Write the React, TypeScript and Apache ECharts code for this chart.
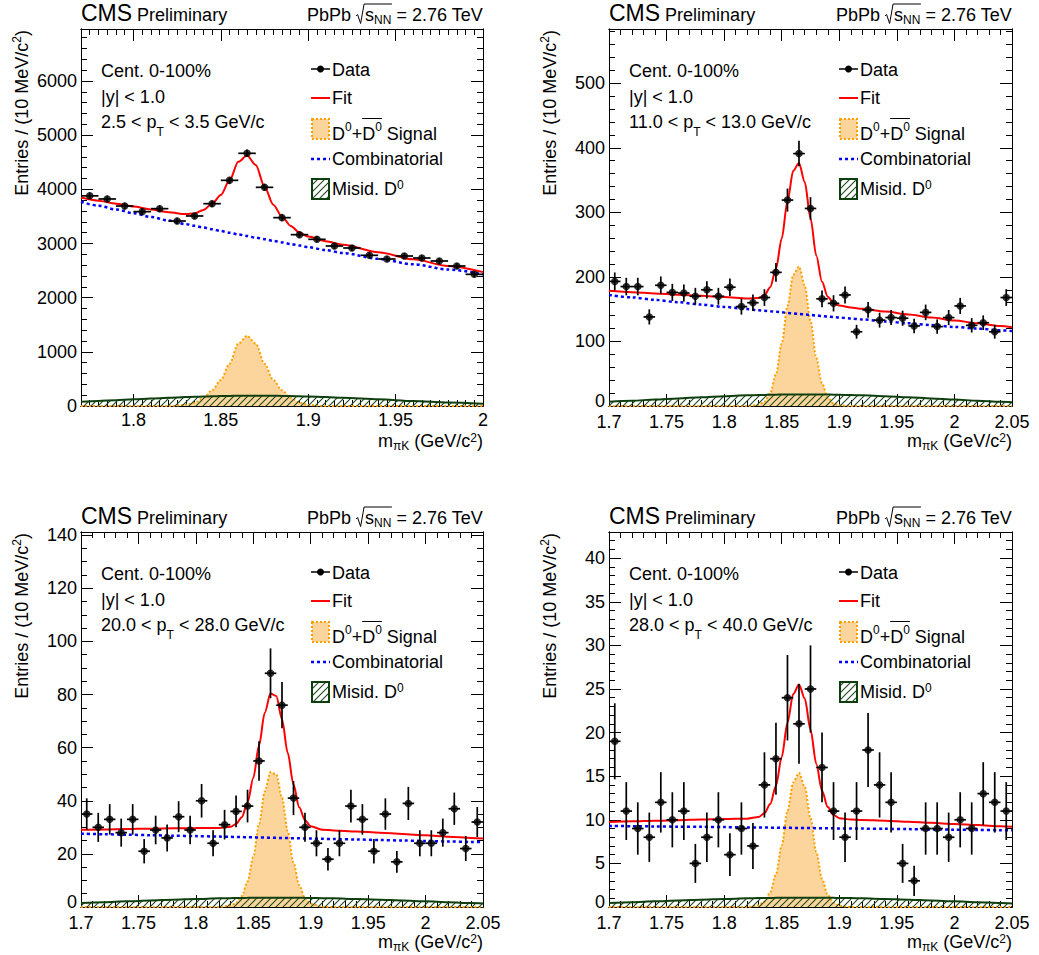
import React, { useEffect, useRef } from 'react';
import * as echarts from 'echarts';

const FONT = '"Liberation Sans", Arial, Helvetica, sans-serif';

// ---------------- data ----------------
// bin centres (10 MeV bins)
const binsTL = [1.775, 1.785, 1.795, 1.805, 1.815, 1.825, 1.835, 1.845, 1.855, 1.865, 1.875, 1.885, 1.895, 1.905, 1.915, 1.925, 1.935, 1.945, 1.955, 1.965, 1.975, 1.985, 1.995];
const binsR = [1.705, 1.715, 1.725, 1.735, 1.745, 1.755, 1.765, 1.775, 1.785, 1.795, 1.805, 1.815, 1.825, 1.835, 1.845, 1.855, 1.865, 1.875, 1.885, 1.895, 1.905, 1.915, 1.925, 1.935, 1.945, 1.955, 1.965, 1.975, 1.985, 1.995, 2.005, 2.015, 2.025, 2.035, 2.045];

// entries per bin
const countsTL = [3880, 3822, 3692, 3588, 3643, 3415, 3508, 3735, 4166, 4665, 4037, 3477, 3163, 3077, 2954, 2917, 2782, 2714, 2769, 2732, 2677, 2585, 2431];
const countsTR = [193, 185, 185, 138, 187, 176, 175, 170, 180, 170, 184, 154, 160, 168, 207, 319, 391, 306, 166, 159, 172, 115, 149, 133, 137, 136, 124, 145, 123, 137, 155, 125, 129, 115, 168];
const countsBL = [35, 30, 33, 28, 33, 21, 29, 26, 34, 29, 40, 24, 31, 36, 38, 55, 88, 76, 41, 30, 24, 18, 24, 38, 33, 21, 35, 17, 39, 24, 24, 28, 37, 22, 32];
const countsBR = [19, 11, 9, 8, 12, 10, 11, 5, 8, 10, 6, 9, 7, 14, 17, 24, 21, 25, 16, 11, 8, 11, 18, 14, 12, 5, 3, 9, 9, 8, 10, 9, 13, 12, 11];

// curve sample positions
const curveXTL = [1.77, 1.78, 1.79, 1.8, 1.81, 1.82, 1.83, 1.835, 1.84, 1.845, 1.85, 1.855, 1.86, 1.865, 1.87, 1.875, 1.88, 1.885, 1.89, 1.895, 1.9, 1.91, 1.92, 1.94, 1.96, 1.98, 2.0];
const curveXR = [1.7, 1.72, 1.74, 1.76, 1.78, 1.8, 1.82, 1.83, 1.835, 1.84, 1.845, 1.85, 1.855, 1.86, 1.865, 1.87, 1.875, 1.88, 1.885, 1.89, 1.895, 1.9, 1.91, 1.92, 1.94, 1.96, 1.98, 2.0, 2.02, 2.04, 2.05];

// panel 1: 2.5 < pT < 3.5
const combTL = [3770, 3699, 3628, 3559, 3491, 3425, 3358, 3326, 3294, 3263, 3231, 3200, 3169, 3138, 3108, 3079, 3049, 3020, 2991, 2962, 2933, 2878, 2823, 2717, 2616, 2521, 2430];
const misidTL = [78, 92, 108, 123, 138, 152, 165, 170, 175, 180, 183, 186, 188, 190, 190, 190, 188, 186, 183, 180, 175, 165, 152, 123, 92, 65, 42];
const sigTL = [0, 0, 0, 0, 0, 0, 20, 60, 150, 290, 480, 780, 1150, 1295, 1150, 780, 480, 290, 150, 60, 20, 0, 0, 0, 0, 0, 0];
const fitTL = [3848, 3791, 3736, 3682, 3629, 3577, 3543, 3556, 3619, 3733, 3894, 4166, 4507, 4623, 4448, 4049, 3717, 3496, 3324, 3202, 3128, 3043, 2975, 2840, 2708, 2586, 2472];

// panel 2: 11 < pT < 13
const combTR = [172, 168.2, 164.4, 160.7, 157.1, 153.5, 150.1, 148.4, 147.6, 146.7, 145.9, 145.1, 144.2, 143.4, 142.6, 141.8, 141, 140.2, 139.4, 138.6, 137.8, 137.1, 135.5, 134, 131, 128.1, 125.3, 122.5, 119.9, 117.3, 116];
const misidTR = [6.6, 8.2, 10, 11.8, 13.6, 15.2, 16.5, 17, 17.2, 17.4, 17.6, 17.8, 17.9, 17.9, 18, 18, 18, 17.9, 17.9, 17.8, 17.6, 17.4, 17, 16.5, 15.2, 13.6, 11.8, 10, 8.2, 6.6, 5.9];
const sigTR = [0, 0, 0, 0, 0, 0, 0, 1.8, 6.7, 20, 49, 96.5, 155, 203, 216, 187, 132, 75, 35, 13, 4, 1, 0, 0, 0, 0, 0, 0, 0, 0, 0];
const fitTR = [178.6, 176.4, 174.4, 172.5, 170.7, 168.7, 166.6, 167.2, 171.5, 184.1, 212.5, 259.4, 317.1, 364.3, 376.6, 346.8, 291, 233.1, 192.3, 169.4, 159.4, 155.5, 152.5, 150.5, 146.2, 141.7, 137.1, 132.5, 128.1, 123.9, 121.9];

// panel 3: 20 < pT < 28
const combBL = [27.6, 27.42, 27.23, 27.05, 26.87, 26.69, 26.5, 26.41, 26.37, 26.32, 26.27, 26.23, 26.18, 26.14, 26.09, 26.05, 26, 25.95, 25.91, 25.86, 25.82, 25.77, 25.68, 25.59, 25.41, 25.22, 25.04, 24.86, 24.67, 24.49, 24.4];
const misidBL = [1.49, 1.8, 2.12, 2.45, 2.75, 3.03, 3.25, 3.34, 3.38, 3.41, 3.44, 3.46, 3.48, 3.49, 3.5, 3.5, 3.5, 3.49, 3.48, 3.46, 3.44, 3.41, 3.34, 3.25, 3.03, 2.75, 2.45, 2.12, 1.8, 1.49, 1.35];
const sigBL = [0, 0, 0, 0, 0, 0, 0.02, 0.44, 1.47, 4.1, 9.6, 18.9, 31.2, 43.5, 50.8, 49.9, 41.2, 28.6, 16.7, 8.2, 3.4, 1.2, 0.08, 0, 0, 0, 0, 0, 0, 0, 0];
const fitBL = [29.09, 29.22, 29.35, 29.5, 29.62, 29.72, 29.77, 30.19, 31.22, 33.83, 39.31, 48.59, 60.86, 73.13, 80.39, 79.45, 70.7, 58.04, 46.09, 37.52, 32.66, 30.38, 29.1, 28.84, 28.44, 27.97, 27.49, 26.98, 26.47, 25.98, 25.75];

// panel 4: 28 < pT < 40
const combBR = [9.3, 9.27, 9.24, 9.21, 9.19, 9.16, 9.13, 9.11, 9.11, 9.1, 9.09, 9.09, 9.08, 9.07, 9.06, 9.06, 9.05, 9.04, 9.04, 9.03, 9.02, 9.01, 9, 8.99, 8.96, 8.93, 8.9, 8.87, 8.84, 8.81, 8.8];
const misidBR = [0.455, 0.55, 0.65, 0.75, 0.84, 0.925, 0.99, 1.02, 1.03, 1.04, 1.05, 1.06, 1.06, 1.07, 1.07, 1.07, 1.07, 1.07, 1.06, 1.06, 1.05, 1.04, 1.02, 0.99, 0.925, 0.84, 0.75, 0.65, 0.55, 0.455, 0.41];
const sigBR = [0, 0, 0, 0, 0, 0, 0.01, 0.19, 0.61, 1.66, 3.75, 7.05, 11, 14.28, 15.38, 13.77, 10.22, 6.31, 3.23, 1.37, 0.49, 0.14, 0, 0, 0, 0, 0, 0, 0, 0, 0];
const fitBR = [9.76, 9.82, 9.89, 9.96, 10.03, 10.09, 10.13, 10.32, 10.75, 11.8, 13.89, 17.2, 21.14, 24.42, 25.51, 23.9, 20.34, 16.42, 13.33, 11.46, 10.56, 10.19, 10.02, 9.98, 9.89, 9.77, 9.65, 9.52, 9.39, 9.27, 9.21];

// tick labels
const xTicksTL = [1.8, 1.85, 1.9, 1.95, 2.0];
const xTicksR = [1.7, 1.75, 1.8, 1.85, 1.9, 1.95, 2.0, 2.05];
const yTicksTL = [0, 1000, 2000, 3000, 4000, 5000, 6000];
const yTicksTR = [0, 100, 200, 300, 400, 500];
const yTicksBL = [0, 20, 40, 60, 80, 100, 120, 140];
const yTicksBR = [0, 5, 10, 15, 20, 25, 30, 35, 40];

const ptRanges = [['2.5', '3.5'], ['11.0', '13.0'], ['20.0', '28.0'], ['28.0', '40.0']];

// ---------------- layout ----------------
const PANELS = [
  { left: 81, top: 29, width: 402, height: 377, xMin: 1.77, xMax: 2.0, xMinor: 0.005, xTicks: xTicksTL, yMax: 6960, yMinor: 200, yTicks: yTicksTL, bins: binsTL, counts: countsTL, cx: curveXTL, comb: combTL, misid: misidTL, sig: sigTL, fit: fitTL, pt: ptRanges[0] },
  { left: 609, top: 29, width: 403, height: 377, xMin: 1.7, xMax: 2.05, xMinor: 0.01, xTicks: xTicksR, yMax: 584, yMinor: 20, yTicks: yTicksTR, bins: binsR, counts: countsTR, cx: curveXR, comb: combTR, misid: misidTR, sig: sigTR, fit: fitTR, pt: ptRanges[1] },
  { left: 81, top: 532, width: 402, height: 375, xMin: 1.7, xMax: 2.05, xMinor: 0.01, xTicks: xTicksR, yMax: 141.2, yMinor: 5, yTicks: yTicksBL, bins: binsR, counts: countsBL, cx: curveXR, comb: combBL, misid: misidBL, sig: sigBL, fit: fitBL, pt: ptRanges[2] },
  { left: 609, top: 532, width: 403, height: 375, xMin: 1.7, xMax: 2.05, xMinor: 0.01, xTicks: xTicksR, yMax: 43.0, yMinor: 1, yTicks: yTicksBR, bins: binsR, counts: countsBR, cx: curveXR, comb: combBR, misid: misidBR, sig: sigBR, fit: fitBR, pt: ptRanges[3] },
];

const SIG_FILL = '#fcd59c';
const SIG_LINE = '#ffa000';
const GREEN = '#0f3f0f';

let mctx: CanvasRenderingContext2D | null = null;
function tw(t: string, s: number): number {
  if (!mctx) mctx = document.createElement('canvas').getContext('2d');
  mctx!.font = `${s}px "Liberation Sans"`;
  return mctx!.measureText(t).width;
}

type Seg = { t: string; s: number; dy?: number; gap?: number };
function layout(x: number, base: number, segs: Seg[], align: 'left' | 'right' = 'left') {
  const widths = segs.map((p) => (p.t ? tw(p.t, p.s) : 0) + (p.gap || 0));
  const total = widths.reduce((a, b) => a + b, 0);
  let cx = align === 'right' ? x - total : x;
  const els: any[] = [];
  const xs: number[] = [];
  segs.forEach((p, i) => {
    xs.push(cx);
    if (p.t) {
      els.push({
        type: 'text',
        x: cx,
        y: base + (p.dy || 0) - 0.35 * p.s,
        silent: true,
        style: {
          text: p.t, fontSize: p.s, fontFamily: FONT, fill: '#000', lineHeight: p.s,
          align: 'left', verticalAlign: 'middle', textAlign: 'left', textVerticalAlign: 'middle',
        },
      });
    }
    cx += widths[i];
  });
  xs.push(cx);
  return { els, xs, end: cx, total };
}

function makeHatch() {
  const n = 7;
  const c = document.createElement('canvas');
  c.width = n; c.height = n;
  const g = c.getContext('2d')!;
  g.strokeStyle = '#1e4a1e';
  g.lineWidth = 1.1;
  g.beginPath();
  g.moveTo(0, n); g.lineTo(n, 0);
  g.moveTo(-1, 1); g.lineTo(1, -1);
  g.moveTo(n - 1, n + 1); g.lineTo(n + 1, n - 1);
  g.stroke();
  return { image: c, repeat: 'repeat', imageWidth: n, imageHeight: n };
}

function panelGraphics(p: any, hatch: any) {
  const fx = p.left, fy = p.top, fr = p.left + p.width, fb = p.top + p.height;
  const els: any[] = [];
  // header
  const hb = fy - 8;
  const cms = layout(fx, hb, [{ t: 'CMS', s: 23 }]);
  els.push(...cms.els);
  els.push(...layout(cms.end + 5, hb, [{ t: 'Preliminary', s: 18 }]).els);
  const rh = layout(fr, hb, [{ t: 'PbPb ', s: 18 }, { t: '', s: 18, gap: 9 }, { t: 's', s: 18 }, { t: 'NN', s: 12, dy: 3.5 }, { t: ' = 2.76 TeV', s: 18 }], 'right');
  els.push(...rh.els);
  const rx = rh.xs[1];
  const ovEnd = rh.xs[4];
  els.push({
    type: 'polyline', silent: true,
    shape: { points: [[rx, hb - 5], [rx + 1.5, hb - 6.5], [rx + 4.5, hb + 2.5], [rx + 8, hb - 17], [ovEnd + 0.5, hb - 17]] },
    style: { stroke: '#000', lineWidth: 1, fill: 'none' },
  });
  // annotations
  els.push(...layout(fx + 20, fy + 48, [{ t: 'Cent. 0-100%', s: 18 }]).els);
  els.push(...layout(fx + 20, fy + 74, [{ t: '|y| < 1.0', s: 18 }]).els);
  els.push(...layout(fx + 20, fy + 99, [{ t: p.pt[0] + ' < p', s: 18 }, { t: 'T', s: 12, dy: 8 }, { t: ' < ' + p.pt[1] + ' GeV/c', s: 18 }]).els);
  // legend
  const lx0 = fx + 230, lx1 = fx + 249, tx = fx + 251;
  els.push({ type: 'line', silent: true, shape: { x1: lx0, y1: fy + 40, x2: lx1, y2: fy + 40 }, style: { stroke: '#000', lineWidth: 1.5 } });
  els.push({ type: 'circle', silent: true, shape: { cx: (lx0 + lx1) / 2, cy: fy + 40, r: 3.5 }, style: { fill: '#000' } });
  els.push(...layout(tx, fy + 47, [{ t: 'Data', s: 18 }]).els);
  els.push({ type: 'line', silent: true, shape: { x1: lx0, y1: fy + 69, x2: lx1, y2: fy + 69 }, style: { stroke: '#ff0000', lineWidth: 2 } });
  els.push(...layout(tx, fy + 75, [{ t: 'Fit', s: 18 }]).els);
  els.push({ type: 'rect', silent: true, shape: { x: lx0 + 1, y: fy + 90, width: 17, height: 20 }, style: { fill: SIG_FILL, stroke: SIG_LINE, lineWidth: 2, lineDash: [2, 2] } });
  const sg = layout(tx, fy + 111, [{ t: 'D', s: 18 }, { t: '0', s: 12, dy: -9 }, { t: '+', s: 18 }, { t: 'D', s: 18 }, { t: '0', s: 12, dy: -9 }, { t: ' Signal', s: 18 }]);
  els.push(...sg.els);
  els.push({ type: 'line', silent: true, shape: { x1: sg.xs[3], y1: fy + 89.5, x2: sg.xs[5], y2: fy + 89.5 }, style: { stroke: '#000', lineWidth: 1 } });
  els.push({ type: 'line', silent: true, shape: { x1: lx0, y1: fy + 130, x2: lx1, y2: fy + 130 }, style: { stroke: '#0000ff', lineWidth: 2.5, lineDash: [3, 3] } });
  els.push(...layout(tx, fy + 136, [{ t: 'Combinatorial', s: 18 }]).els);
  els.push({ type: 'rect', silent: true, shape: { x: lx0 + 1, y: fy + 150, width: 17, height: 20 }, style: { fill: hatch, stroke: GREEN, lineWidth: 2 } });
  els.push(...layout(tx, fy + 166, [{ t: 'Misid. D', s: 18 }, { t: '0', s: 12, dy: -6 }]).els);
  // axis titles
  const yt = layout(0, 6.3, [{ t: 'Entries / (10 MeV/c', s: 18 }, { t: '2', s: 12, dy: -7 }, { t: ')', s: 18 }], 'right');
  els.push({ type: 'group', x: fx - 59, y: fy + 1, rotation: Math.PI / 2, children: yt.els });
  els.push(...layout(fr, fb + 41, [{ t: 'm', s: 18 }, { t: 'πK', s: 12, dy: 3 }, { t: ' (GeV/c', s: 18 }, { t: '2', s: 12, dy: -5 }, { t: ')', s: 18 }], 'right').els);
  return els;
}

function buildOption() {
  const hatch = makeHatch();
  const grid: any[] = [];
  const xAxis: any[] = [];
  const yAxis: any[] = [];
  const series: any[] = [];
  let graphics: any[] = [];
  const lineStyleBlack = { color: '#000', width: 1 };
  const labelStyle = { fontSize: 18, lineHeight: 14, fontFamily: FONT, color: '#000', hideOverlap: false, showMinLabel: true, showMaxLabel: true };

  PANELS.forEach((p, i) => {
    // when the x axis has a label at its left end, lift the y "0" label a little so the two do not collide
    const lift = p.xTicks[0] === p.xMin;
    const yFmt = (v: number) => (v === 0 && lift ? '{z|0}' : String(v));
    grid.push({ left: p.left, top: p.top, width: p.width, height: p.height, containLabel: false, outerBoundsMode: 'none', show: false });
    const xb = { type: 'value', gridIndex: i, min: p.xMin, max: p.xMax, splitLine: { show: false }, axisLine: { show: true, onZero: false, lineStyle: lineStyleBlack } };
    const yb = { type: 'value', gridIndex: i, min: 0, max: p.yMax, splitLine: { show: false }, axisLine: { show: true, onZero: false, lineStyle: lineStyleBlack } };
    xAxis.push(
      { ...xb, position: 'bottom', axisTick: { show: true, inside: true, length: 12, customValues: p.xTicks, lineStyle: lineStyleBlack }, axisLabel: { ...labelStyle, show: true, margin: lift ? 9 : 7, customValues: p.xTicks, formatter: (v: number) => String(v) } },
      { ...xb, position: 'bottom', interval: p.xMinor, axisTick: { show: true, inside: true, length: 6, lineStyle: lineStyleBlack }, axisLabel: { show: false } },
      { ...xb, position: 'top', axisTick: { show: true, inside: true, length: 12, customValues: p.xTicks, lineStyle: lineStyleBlack }, axisLabel: { show: false } },
      { ...xb, position: 'top', interval: p.xMinor, axisTick: { show: true, inside: true, length: 6, lineStyle: lineStyleBlack }, axisLabel: { show: false } },
    );
    yAxis.push(
      {
        ...yb, position: 'left', axisTick: { show: true, inside: true, length: 12, customValues: p.yTicks, lineStyle: lineStyleBlack },
        axisLabel: { ...labelStyle, show: true, margin: 4, customValues: p.yTicks, formatter: yFmt, rich: { z: { fontSize: 18, lineHeight: 14, fontFamily: FONT, color: '#000', padding: [0, 0, 10, 0] } } },
      },
      { ...yb, position: 'left', interval: p.yMinor, axisTick: { show: true, inside: true, length: 6, lineStyle: lineStyleBlack }, axisLabel: { show: false } },
      { ...yb, position: 'right', axisTick: { show: true, inside: true, length: 12, customValues: p.yTicks, lineStyle: lineStyleBlack }, axisLabel: { show: false } },
      { ...yb, position: 'right', interval: p.yMinor, axisTick: { show: true, inside: true, length: 6, lineStyle: lineStyleBlack }, axisLabel: { show: false } },
    );
    const xi = i * 4, yi = i * 4;
    const pts = (vals: number[]) => p.cx.map((x: number, k: number) => [x, vals[k]]);
    const common = { xAxisIndex: xi, yAxisIndex: yi, symbol: 'none', showSymbol: false, smooth: 0.3, smoothMonotone: 'x', silent: true, clip: true };
    series.push({ ...common, type: 'line', name: 'Signal', data: pts(p.sig), lineStyle: { color: SIG_LINE, width: 2, type: [2, 2] }, areaStyle: { color: SIG_FILL, opacity: 1 }, z: 2 });
    series.push({ ...common, type: 'line', name: 'Misid', data: pts(p.misid), lineStyle: { color: GREEN, width: 2 }, areaStyle: { color: hatch, opacity: 1 }, z: 3 });
    series.push({ ...common, type: 'line', name: 'Combinatorial', data: pts(p.comb), lineStyle: { color: '#0000ff', width: 2.5, type: [3, 3] }, z: 4 });
    series.push({ ...common, type: 'line', name: 'Fit', data: pts(p.fit), lineStyle: { color: '#ff0000', width: 2 }, z: 5 });
    const dat = p.bins.map((b: number, k: number) => [b, p.counts[k]]);
    series.push({
      type: 'custom', name: 'Data errors', xAxisIndex: xi, yAxisIndex: yi, data: dat, encode: { x: 0, y: 1 }, clip: true, silent: true, z: 6,
      renderItem: (params: any, api: any) => {
        const x = api.value(0), y = api.value(1);
        const e = Math.sqrt(y);
        const a = api.coord([x - 0.005, y]);
        const b = api.coord([x + 0.005, y]);
        const c = api.coord([x, y + e]);
        const d = api.coord([x, y - e]);
        return {
          type: 'group',
          children: [
            { type: 'line', shape: { x1: a[0], y1: a[1], x2: b[0], y2: b[1] }, style: { stroke: '#000', lineWidth: 1.7 } },
            { type: 'line', shape: { x1: c[0], y1: c[1], x2: d[0], y2: d[1] }, style: { stroke: '#000', lineWidth: 1.7 } },
          ],
        };
      },
    });
    series.push({ type: 'scatter', name: 'Data', xAxisIndex: xi, yAxisIndex: yi, data: dat, symbol: 'circle', symbolSize: 7.5, itemStyle: { color: '#000' }, silent: true, z: 7 });
    graphics = graphics.concat(panelGraphics(p, hatch));
  });

  return {
    animation: false,
    backgroundColor: '#ffffff',
    grid, xAxis, yAxis, series,
    graphic: { elements: graphics },
  };
}

export default function App() {
  const ref = useRef<HTMLDivElement>(null);
  useEffect(() => {
    if (!ref.current) return;
    const chart = echarts.init(ref.current, null, { renderer: 'svg' });
    chart.setOption(buildOption() as any);
    return () => chart.dispose();
  }, []);
  return <div ref={ref} style={{ position: 'absolute', left: 0, top: 0, width: 1039, height: 955, background: '#fff' }} />;
}
